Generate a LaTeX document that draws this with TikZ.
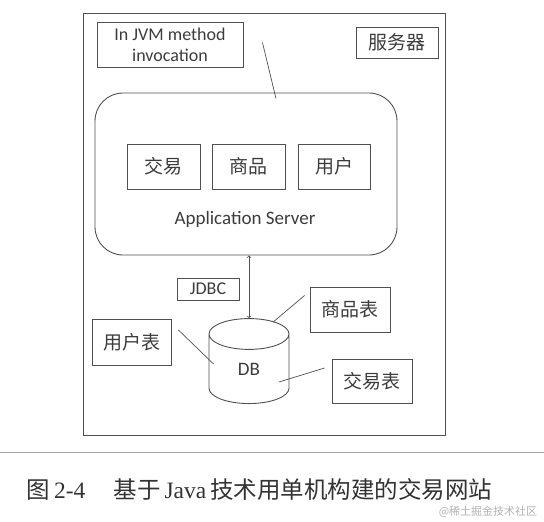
\documentclass[tikz,border=0pt]{standalone}
\usepackage{fontspec}
\usepackage{xcolor}
\usepackage{tikz}
\usetikzlibrary{shapes,arrows,positioning,calc}
\setmainfont{Carlito}
\newfontfamily\cjk{Noto Sans CJK SC}
\newfontfamily\capserif{Liberation Serif}
\definecolor{inkgray}{HTML}{505050}
\definecolor{txtgray}{HTML}{3C3C3C}

\begin{document}
\begin{tikzpicture}[x=1pt,y=-1pt,
        box/.style={draw=inkgray, line width=0.9pt, inner sep=0pt, text=txtgray, font=\fontsize{19}{22}\selectfont\cjk},
        link/.style={draw=inkgray, line width=0.7pt}]
        \useasboundingbox (0,0) rectangle (544,522);
        \draw[inkgray, line width=1pt] (83,13) rectangle (445,435);
        \node[box, minimum width=146pt, minimum height=45pt, align=center, font=\fontsize{18}{21}\selectfont] (jvm) at (170,44.5) {In JVM method\\invocation};
        \node[box, minimum width=82pt, minimum height=31pt] (server) at (397,42.5) {服务器};
        \node[box, rounded corners=28pt, minimum width=302pt, minimum height=162pt] (app) at (246,174) {};
        \node[box, minimum width=73pt, minimum height=45pt] (trade) at (163.5,166.5) {交易};
        \node[box, minimum width=73pt, minimum height=45pt] (goods) at (248.5,166.5) {商品};
        \node[box, minimum width=72pt, minimum height=45pt] (user) at (334,166.5) {用户};
        \node[txtgray, font=\fontsize{19}{22}\selectfont] (appname) at (245,219) {Application Server};
        \node[box, minimum width=62pt, minimum height=22pt, font=\fontsize{18}{21}\selectfont] (jdbc) at (208,289) {JDBC};
        \node[box, cylinder, shape border rotate=90, aspect=1.4, minimum width=80pt, minimum height=85pt, font=\fontsize{19}{22}\selectfont] (db) at (249,369) {DB};
        \node[box, minimum width=80pt, minimum height=45pt] (goodstab) at (350,309.5) {商品表};
        \node[box, minimum width=79pt, minimum height=46pt] (usertab) at (131.5,342) {用户表};
        \node[box, minimum width=80pt, minimum height=44pt] (tradetab) at (372,381) {交易表};
        % free ends of the pointer lines
        \coordinate (jvmtip) at ($(jvm.east)+(19,-2)$);
        \coordinate (jvmend) at ($(app.north)+(30,6)$);
        \coordinate (dbgoods) at ($(db.north)+(24,4)$);
        \coordinate (goodstip) at ($(goodstab.west)+(-5,-14)$);
        \coordinate (dbuser) at ($(db.west)+(5,-5)$);
        \coordinate (usertip) at ($(usertab.east)+(7,-12)$);
        \coordinate (dbtrade) at ($(db.center)+(30,13)$);
        \coordinate (tradetip) at ($(tradetab.west)+(-7,-13)$);
        \draw[link] (jvmtip) -- (jvmend);
        \draw[link, <->, >=to] (db.north |- app.south) -- (db.north);
        \draw[link] (dbgoods) -- (goodstip);
        \draw[link] (dbuser) -- (usertip);
        \draw[link] (dbtrade) -- (tradetip);
        % caption
        \draw[gray!70, line width=0.8pt] (0,452) -- (544,452);
        \node[black!80, font=\fontsize{23.5}{28}\selectfont] (caption) at (259.5,490) {{\cjk 图}\,{\capserif 2-4}\hspace{1.2em}{\cjk 基于}\,{\capserif Java}\,{\cjk 技术用单机构建的交易网站}};
        \node[gray!60, font=\fontsize{11}{13}\selectfont\cjk] (mark) at (488,512) {@稀土掘金技术社区};
    \end{tikzpicture}
\end{document}
